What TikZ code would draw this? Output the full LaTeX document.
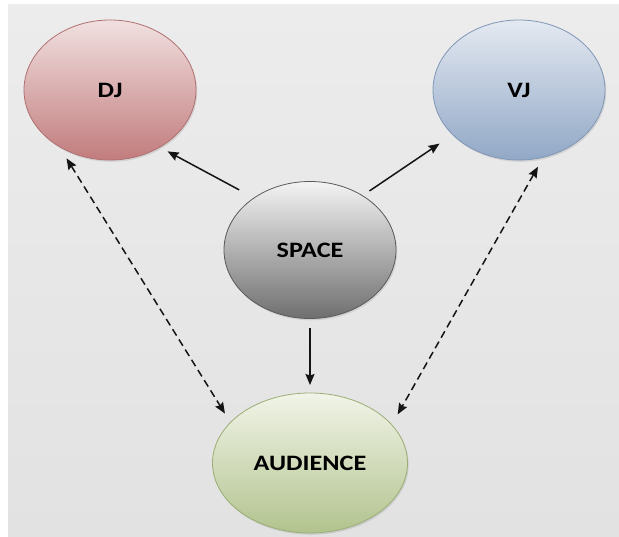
\documentclass[tikz,border=0pt]{standalone}
\usepackage{fontspec}
\setmainfont{Carlito}
\usetikzlibrary{arrows.meta,shapes.geometric,shadows}

\definecolor{bgtop}{HTML}{ECECEC}
\definecolor{bgbot}{HTML}{E2E2E2}
\definecolor{djtop}{HTML}{F1E0E0}
\definecolor{djmid}{HTML}{DDB3B3}
\definecolor{djbot}{HTML}{C27C7D}
\definecolor{djline}{HTML}{B07071}
\definecolor{vjtop}{HTML}{E4E9F1}
\definecolor{vjmid}{HTML}{BCC9DB}
\definecolor{vjbot}{HTML}{91A8C6}
\definecolor{vjline}{HTML}{7F96B6}
\definecolor{sptop}{HTML}{F3F3F3}
\definecolor{spmid}{HTML}{BDBDBD}
\definecolor{spbot}{HTML}{6F6F6F}
\definecolor{spline}{HTML}{5A5A5A}
\definecolor{autop}{HTML}{F1F4E8}
\definecolor{aumid}{HTML}{D6E0BF}
\definecolor{aubot}{HTML}{B2C38E}
\definecolor{auline}{HTML}{9AAE74}
\definecolor{ink}{HTML}{141414}

\tikzset{
  bubble/.style={ellipse, outer sep=0pt, inner sep=0pt,
    minimum width=172pt, minimum height=140pt, line width=0.8pt,
    drop shadow={shadow xshift=1.2pt, shadow yshift=-1.8pt, opacity=0.22},
    font=\fontsize{22}{24}\selectfont\bfseries},
  tip/.style={Stealth[length=11pt, width=9pt, inset=1.5pt]},
  arr/.style={draw=ink, line width=1.5pt, -{Stealth[length=11pt, width=9pt, inset=1.5pt]}},
  darr/.style={draw=ink, line width=1.5pt, dash pattern=on 7.5pt off 4.5pt,
    {Stealth[length=11pt, width=9pt, inset=1.5pt]}-{Stealth[length=11pt, width=9pt, inset=1.5pt]}},
}

\newcommand{\wide}[1]{\scalebox{1.19}[1]{#1}}

\begin{document}
\begin{tikzpicture}[x=1pt, y=-1pt]
  % canvas
  \useasboundingbox (0,0) rectangle (619,537);
  \fill[white] (0,0) rectangle (619,537);
  \shade[top color=bgtop, bottom color=bgbot] (8,5) rectangle (619,537);

  % the four bubbles
  \node[bubble, draw=djline, top color=djtop, middle color=djmid, bottom color=djbot]
    (dj) at (110,90) {\wide{DJ}};
  \node[bubble, draw=vjline, top color=vjtop, middle color=vjmid, bottom color=vjbot]
    (vj) at (519,90) {\wide{VJ}};
  \node[bubble, minimum height=137pt, draw=spline, top color=sptop, middle color=spmid, bottom color=spbot]
    (sp) at (310,250) {\wide{SPACE}};
  \node[bubble, minimum width=195pt, draw=auline, top color=autop, middle color=aumid, bottom color=aubot]
    (au) at (310,463) {\wide{AUDIENCE}};

  % solid arrows out of SPACE
  \draw[arr, shorten <=17pt, shorten >=9pt] (sp.137) -- (dj.-49.7);
  \draw[arr, shorten <=8.5pt, shorten >=16pt] (sp.46) -- (vj.-146.7);
  \draw[arr, shorten <=10pt, shorten >=8pt] (sp.south) -- (sp.south |- au.north);

  % dashed two-way links with AUDIENCE
  \draw[darr, shorten <=14pt, shorten >=10.5pt] (dj.-132) -- (au.153.4);
  \draw[darr, shorten <=11pt, shorten >=12pt] (vj.-70.9) -- (au.25.4);
\end{tikzpicture}
\end{document}
